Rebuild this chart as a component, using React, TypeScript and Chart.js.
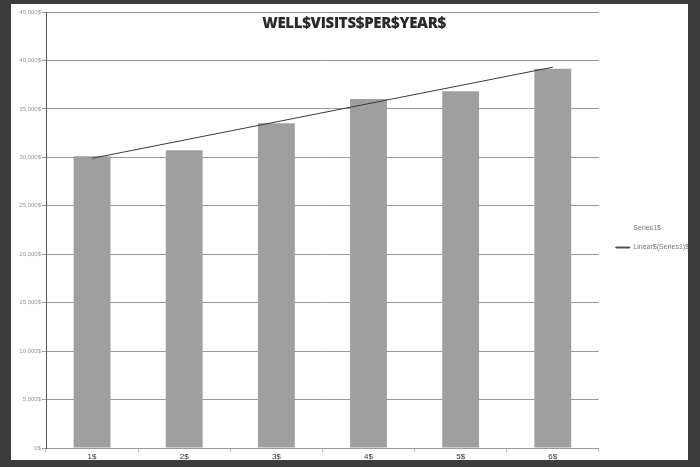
import React, { useEffect, useRef } from "react";
import { Chart, registerables } from "chart.js";

Chart.register(...registerables);

const categories = ["1$", "2$", "3$", "4$", "5$", "6$"];
const visits = [30100, 30720, 33520, 36030, 36810, 39140];
const trendEnds = [29900, null, null, null, null, 39300];
const seriesName = "Series1$";
const trendName = "Linear$(Series1)$";
const titleText = "WELL$VISITS$PER$YEAR$";
const yMax = 45000;
const yStep = 5000;

const legendGap = 5;

const legendShift = {
  id: "legendShift",
  beforeLayout(chart: any) {
    const lg = chart.legend;
    if (!lg || lg.__shifted) return;
    lg.__shifted = true;
    const fit = lg.fit.bind(lg);
    lg.fit = function () {
      fit();
      this.width += legendGap;
    };
    const draw = lg.draw.bind(lg);
    lg.draw = function () {
      const c = this.ctx;
      c.save();
      c.translate(legendGap, 2);
      draw();
      c.restore();
    };
  },
};

export default function App() {
  const ref = useRef<HTMLCanvasElement>(null);
  useEffect(() => {
    document.body.style.margin = "0";
    const ctx = ref.current!.getContext("2d")!;
    const chart = new Chart(ctx, {
      type: "bar",
      data: {
        labels: categories,
        datasets: [
          {
            type: "bar",
            label: seriesName,
            data: visits,
            backgroundColor: "#9f9f9f",
            borderWidth: 0,
            barPercentage: 0.4,
            categoryPercentage: 1,
            order: 2,
          },
          {
            type: "line",
            label: trendName,
            data: trendEnds as any,
            borderColor: "#3a3a3a",
            borderWidth: 1,
            pointRadius: 0,
            spanGaps: true,
            fill: false,
            order: 1,
          },
        ],
      },
      plugins: [legendShift],
      options: {
        animation: false,
        responsive: false,
        layout: { padding: { top: 8, right: 0, left: 0, bottom: 0 } },
        plugins: {
          title: { display: false },
          tooltip: { enabled: false },
          legend: {
            position: "right",
            align: "center",
            labels: {
              font: { family: "Liberation Sans", size: 7 },
              color: "#777",
              boxWidth: 14,
              boxHeight: 1,
              padding: 12,
              sort: (a: any, b: any) => a.datasetIndex - b.datasetIndex,
              generateLabels: (c: any) => {
                const items = Chart.defaults.plugins.legend.labels.generateLabels(c);
                items.forEach((it: any) => {
                  if (it.datasetIndex === 0) {
                    it.fillStyle = "rgba(0,0,0,0)";
                    it.strokeStyle = "rgba(0,0,0,0)";
                  } else {
                    it.fillStyle = "#555";
                    it.strokeStyle = "#555";
                    it.lineWidth = 1;
                  }
                });
                return items;
              },
            },
          },
        },
        scales: {
          x: {
            grid: {
              drawOnChartArea: false,
              offset: true,
              tickLength: 4,
              color: "#bbb",
            },
            border: { color: "#999" },
            ticks: {
              font: { family: "Liberation Sans", size: 8 },
              color: "#333",
              padding: 0,
            },
            afterFit: (s: any) => {
              s.height = 12;
            },
          },
          y: {
            min: 0,
            max: yMax,
            grid: { color: "#9a9a9a", tickLength: 4 },
            border: { color: "#555" },
            ticks: {
              stepSize: yStep,
              font: { family: "Liberation Sans", size: 6 },
              color: "#999",
              padding: 1,
              callback: (v: any) => Number(v).toLocaleString("en-US") + "$",
            },
            afterFit: (s: any) => {
              s.width = 35;
            },
          },
        },
      },
    });
    return () => chart.destroy();
  }, []);

  return (
    <div
      style={{
        position: "fixed",
        left: 0,
        top: 0,
        width: 700,
        height: 467,
        background: "#3c3c3c",
        overflow: "hidden",
      }}
    >
      <div
        style={{
          position: "absolute",
          left: 11,
          top: 4,
          width: 677,
          height: 456,
          background: "#fff",
          overflow: "hidden",
        }}
      >
        <canvas ref={ref} width={688} height={456} style={{ display: "block" }} />
        <div
          style={{
            position: "absolute",
            left: 0,
            width: 686,
            top: 8,
            textAlign: "center",
            fontFamily: "'Open Sans', 'Liberation Sans', sans-serif",
            fontWeight: 800,
            fontSize: 15,
            color: "#2a2a2a",
            letterSpacing: -0.3,
          }}
        >
          {titleText}
        </div>
      </div>
    </div>
  );
}
